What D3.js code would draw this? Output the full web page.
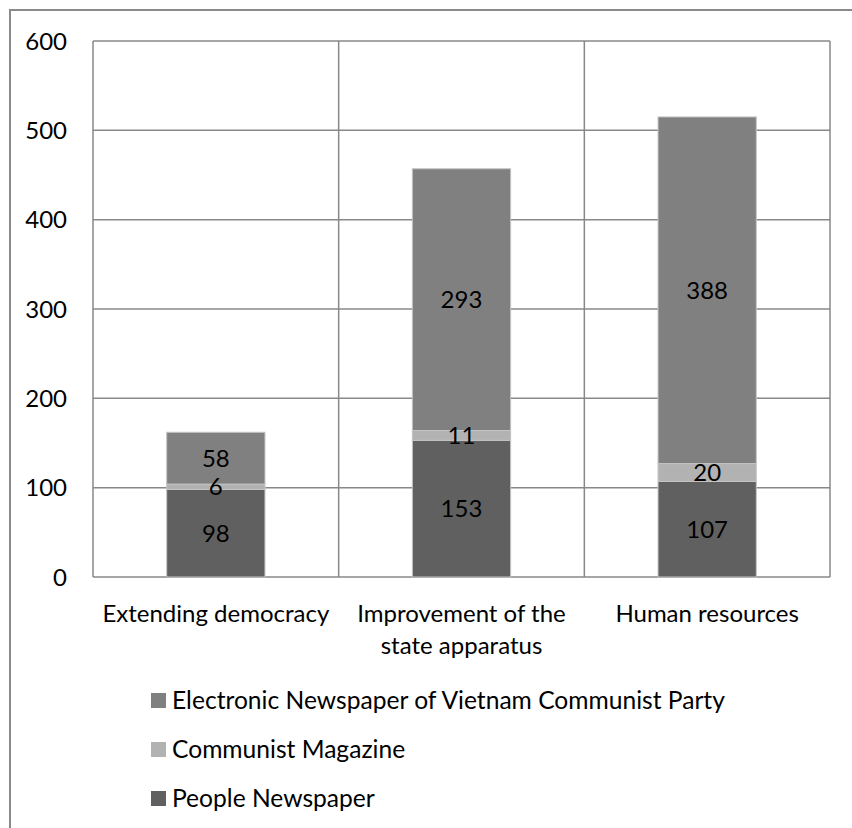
<!DOCTYPE html>
<html lang="en">
<head>
  <meta charset="UTF-8">
  <title>Stacked bars – newspapers by topic</title>
  <script src="https://d3js.org/d3.v7.min.js"></script>
  <style>
    body {
      margin: 0;
      background: #fff;
      font-family: "Lato", "Open Sans", sans-serif;
    }
    .grid line { stroke: #888; stroke-width: 1.5px; }
    text { fill: #000; }
  </style>
</head>
<body>
<div id="chart"></div>

<script>
  // data
  var categories = ["Extending democracy", "Improvement of the state apparatus", "Human resources"];
  var categoryLines = [["Extending democracy"], ["Improvement of the", "state apparatus"], ["Human resources"]];
  var seriesNames = ["People Newspaper", "Communist Magazine", "Electronic Newspaper of Vietnam Communist Party"];
  var people = [98, 153, 107];
  var magazine = [6, 11, 20];
  var electronic = [58, 293, 388];
  var yTicks = [0, 100, 200, 300, 400, 500, 600];

  var colors = {
    "People Newspaper": "#606060",
    "Communist Magazine": "#b2b2b2",
    "Electronic Newspaper of Vietnam Communist Party": "#808080"
  };

  var width = 852, height = 828;
  var plot = { left: 93, top: 41, right: 830, bottom: 577 };
  var fontSize = 24;

  var svg = d3.select("#chart").append("svg")
    .attr("width", width)
    .attr("height", height);

  // outer chart border (runs off the right and bottom of the picture)
  svg.append("rect")
    .attr("x", 10).attr("y", 10)
    .attr("width", 900).attr("height", 900)
    .attr("fill", "none")
    .attr("stroke", "#8a8a8a")
    .attr("stroke-width", 2);

  var table = categories.map(function(c, i) {
    return {
      category: c,
      "People Newspaper": people[i],
      "Communist Magazine": magazine[i],
      "Electronic Newspaper of Vietnam Communist Party": electronic[i]
    };
  });

  var x = d3.scaleBand()
    .domain(categories)
    .range([plot.left, plot.right])
    .paddingInner(0)
    .paddingOuter(0);

  var y = d3.scaleLinear()
    .domain([0, 600])
    .range([plot.bottom, plot.top]);

  // horizontal gridlines
  svg.append("g").attr("class", "grid")
    .selectAll("line")
    .data(yTicks)
    .enter().append("line")
    .attr("x1", plot.left).attr("x2", plot.right)
    .attr("y1", d => y(d)).attr("y2", d => y(d));

  // vertical category separators and plot border
  var edges = categories.map(c => x(c)).concat([plot.right]);
  svg.append("g").attr("class", "grid")
    .selectAll("line")
    .data(edges)
    .enter().append("line")
    .attr("x1", d => d).attr("x2", d => d)
    .attr("y1", plot.top).attr("y2", plot.bottom);

  // y tick labels
  svg.append("g")
    .selectAll("text")
    .data(yTicks)
    .enter().append("text")
    .attr("x", 67)
    .attr("y", d => y(d))
    .attr("dy", "0.36em")
    .attr("text-anchor", "end")
    .style("font-size", fontSize + "px")
    .text(d => d);

  var layers = d3.stack().keys(seriesNames)(table);
  var barW = x.bandwidth() * 0.4;

  var layer = svg.append("g")
    .selectAll("g")
    .data(layers)
    .enter().append("g")
    .attr("fill", d => colors[d.key]);

  layer.selectAll("rect")
    .data(d => d)
    .enter().append("rect")
    .attr("x", d => x(d.data.category) + (x.bandwidth() - barW) / 2)
    .attr("y", d => y(d[1]))
    .attr("width", barW)
    .attr("height", d => y(d[0]) - y(d[1]))
    .attr("stroke", "#c4c4c4")
    .attr("stroke-width", 1);

  // value labels, drawn after all bars so the thin segments stay readable
  var labelData = layers.flatMap(l => l.map(d => ({ cat: d.data.category, lo: d[0], hi: d[1] })));
  svg.append("g")
    .selectAll("text")
    .data(labelData)
    .enter().append("text")
    .attr("x", d => x(d.cat) + x.bandwidth() / 2)
    .attr("y", d => y((d.lo + d.hi) / 2))
    .attr("dy", "0.36em")
    .attr("text-anchor", "middle")
    .style("font-size", fontSize + "px")
    .text(d => d.hi - d.lo);

  // category labels
  var catLabels = svg.append("g")
    .selectAll("text")
    .data(categories)
    .enter().append("text")
    .attr("x", d => x(d) + x.bandwidth() / 2)
    .attr("y", 622)
    .attr("text-anchor", "middle")
    .style("font-size", fontSize + "px");

  catLabels.selectAll("tspan")
    .data((d, i) => categoryLines[i])
    .enter().append("tspan")
    .attr("x", function() { return this.parentNode.getAttribute("x"); })
    .attr("dy", (d, i) => i === 0 ? 0 : 32)
    .text(d => d);

  // legend, top to bottom as in the picture
  var legendOrder = seriesNames.slice().reverse();
  var legend = svg.append("g")
    .selectAll("g")
    .data(legendOrder)
    .enter().append("g")
    .attr("transform", (d, i) => "translate(151," + (700.5 + i * 49) + ")");

  legend.append("rect")
    .attr("x", 0).attr("y", -7.5)
    .attr("width", 15).attr("height", 15)
    .attr("fill", d => colors[d]);

  legend.append("text")
    .attr("x", 21)
    .attr("y", 0)
    .attr("dy", "0.36em")
    .style("font-size", "24.6px")
    .text(d => d);
</script>
</body>
</html>
